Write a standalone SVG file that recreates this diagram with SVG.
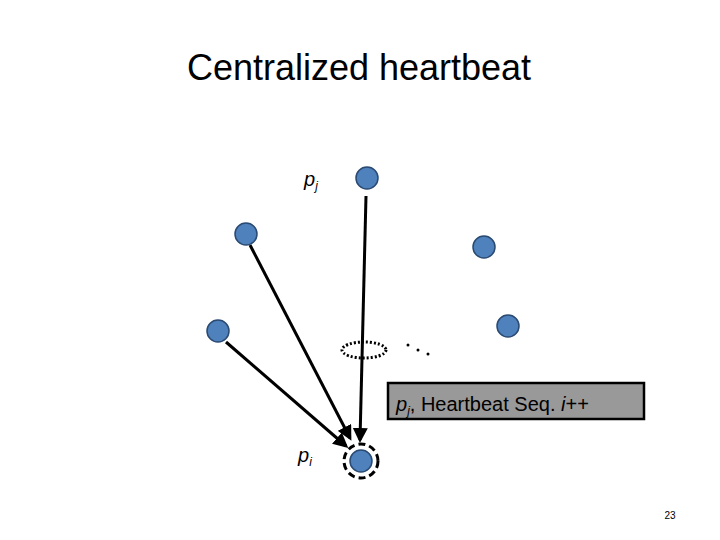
<svg xmlns="http://www.w3.org/2000/svg" width="720" height="540" viewBox="0 0 720 540">
<style>
.n{fill:#4f81bd;stroke:#2a4a72;stroke-width:1.5}
.c{stroke:#000;stroke-width:3;fill:none;marker-end:url(#a)}
text{font-family:"Liberation Sans",Arial,sans-serif}
</style>
<defs><marker id="a" viewBox="0 0 10 10" refX="8" refY="5" markerWidth="5" markerHeight="5" orient="auto"><path d="M0,0L10,5L0,10z" fill="#000"/></marker></defs>
<rect width="720" height="540" fill="#fff"/>
<text x="359" y="80" font-size="36" text-anchor="middle" font-family="Open Sans,sans-serif">Centralized heartbeat</text>
<g id="connectors">
<path class="c" d="M366,196L360,440"/>
<path class="c" d="M250,245L350,438"/>
<path class="c" d="M226,342L346,446"/>
</g>
<g id="pj"><circle class="n" cx="367" cy="178" r="11"/><text x="304" y="186" font-size="20" font-style="italic">p<tspan font-size="12" dy="4">j</tspan></text></g>
<g id="n1"><circle class="n" cx="246" cy="234" r="11"/></g>
<g id="n2"><circle class="n" cx="218" cy="331" r="11"/></g>
<g id="n3"><circle class="n" cx="484" cy="247" r="11"/></g>
<g id="n4"><circle class="n" cx="508" cy="326" r="11"/></g>
<g id="pi"><circle class="n" cx="361" cy="461" r="11"/><circle cx="361" cy="461" r="17" fill="none" stroke="#000" stroke-width="3" stroke-dasharray="7,4"/><text x="298" y="462" font-size="20" font-style="italic">p<tspan font-size="12" dy="4">i</tspan></text></g>
<g id="ring"><ellipse cx="364" cy="350" rx="22" ry="8" fill="none" stroke="#000" stroke-width="3" stroke-dasharray="2,2"/>
<circle cx="408" cy="345" r="1.5"/><circle cx="418" cy="350" r="1.5"/><circle cx="428" cy="354" r="1.5"/></g>
<g id="label"><rect x="388" y="383" width="256" height="36" fill="#999" stroke="#000" stroke-width="2.5"/>
<text x="396" y="411" font-size="20"><tspan font-style="italic">p</tspan><tspan font-size="12" font-style="italic" dy="4">j</tspan><tspan dy="-4">, Heartbeat Seq. </tspan><tspan font-style="italic">i</tspan>++</text></g>
<text x="670" y="519" font-size="10" text-anchor="middle">23</text>
</svg>
